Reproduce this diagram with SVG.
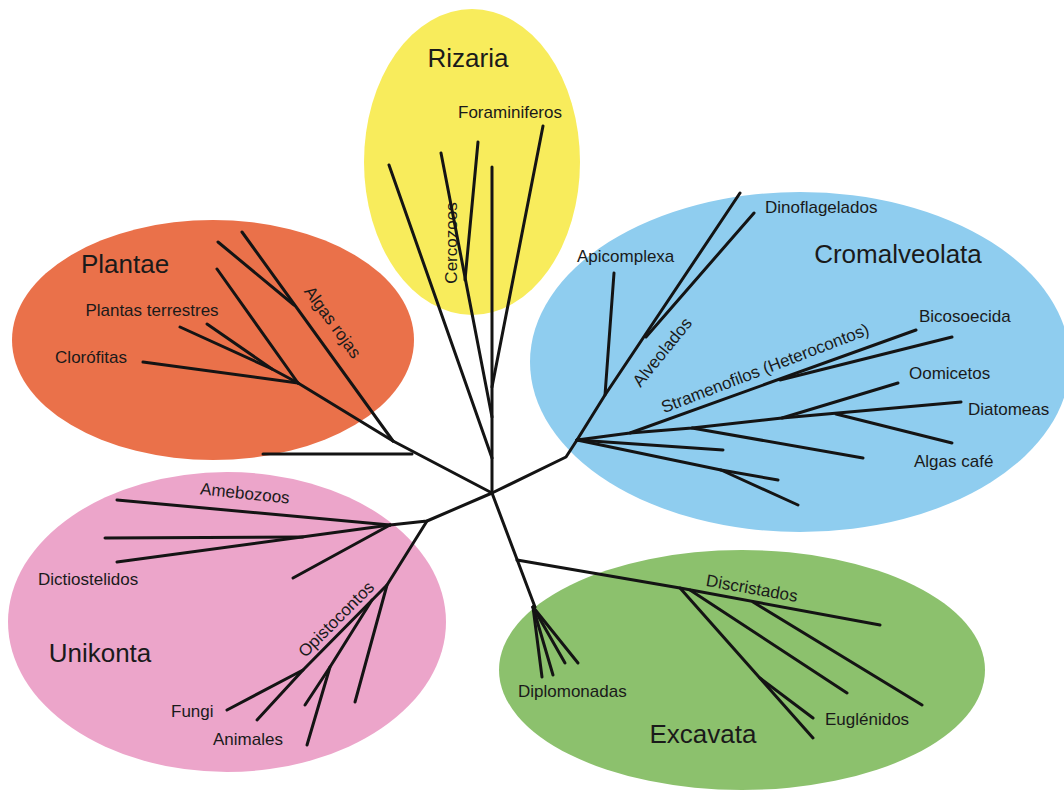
<svg xmlns="http://www.w3.org/2000/svg" width="1064" height="793" viewBox="0 0 1064 793">
<style>
.t{font-family:"Liberation Sans",Arial,sans-serif;font-size:17px;fill:#1a1a1a}
.h{font-family:"Liberation Sans",Arial,sans-serif;font-size:26px;fill:#1a1a1a}
.m{text-anchor:middle}
.br{fill:none;stroke:#141414;stroke-width:3;stroke-linecap:round;stroke-linejoin:round}
</style>
<rect width="1064" height="793" fill="#ffffff"/>
<g id="rizaria">
<ellipse cx="472" cy="162" rx="108" ry="153" fill="#f8ec5c"/>
<text class="h m" x="468" y="67">Rizaria</text>
<text class="t m" x="510" y="118">Foraminiferos</text>
<text class="t m" transform="translate(457,243) rotate(-90)">Cercozoos</text>
</g>
<g id="plantae">
<ellipse cx="213" cy="340" rx="201" ry="120" fill="#ea714a"/>
<text class="h m" x="125" y="273">Plantae</text>
<text class="t m" x="152" y="316">Plantas terrestres</text>
<text class="t m" x="91" y="363">Clorófitas</text>
<text class="t m" transform="translate(333,322) rotate(54)" y="6">Algas rojas</text>
</g>
<g id="cromalveolata">
<ellipse cx="800" cy="362" rx="270" ry="170" fill="#8fcdef"/>
<text class="h m" x="898" y="263">Cromalveolata</text>
<text class="t" x="577" y="262">Apicomplexa</text>
<text class="t" x="765" y="213">Dinoflagelados</text>
<text class="t" x="919" y="322">Bicosoecida</text>
<text class="t" x="909" y="379">Oomicetos</text>
<text class="t" x="968" y="415">Diatomeas</text>
<text class="t" x="914" y="467">Algas café</text>
<text class="t m" transform="translate(662,352) rotate(-51)" y="6">Alveolados</text>
<text class="t m" transform="translate(765,368) rotate(-21)" y="6">Stramenofilos (Heterocontos)</text>
</g>
<g id="unikonta">
<ellipse cx="227" cy="622" rx="219" ry="150" fill="#eca5ca"/>
<text class="h m" x="100" y="662">Unikonta</text>
<text class="t m" transform="translate(245,493) rotate(6)" y="6">Amebozoos</text>
<text class="t" x="38" y="585">Dictiostelidos</text>
<text class="t m" transform="translate(336,619) rotate(-45)" y="6">Opistocontos</text>
<text class="t" x="171" y="717">Fungi</text>
<text class="t" x="213" y="745">Animales</text>
</g>
<g id="excavata">
<ellipse cx="742" cy="670" rx="243" ry="120" fill="#8cc16d"/>
<text class="h m" x="703" y="743">Excavata</text>
<text class="t m" transform="translate(752,588) rotate(10)" y="6">Discristados</text>
<text class="t" x="518" y="697">Diplomonadas</text>
<text class="t" x="825" y="725">Euglénidos</text>
</g>
<g id="connectors" class="br">
<path d="M492,493 L492,167"/>
<path d="M492,493 L393,441"/>
<path d="M263,454 L412,454"/>
<path d="M492,493 L566,457 L577,440"/>
<path d="M492,493 L427,521 L390,525"/>
<path d="M492,493 L535,607"/>
<path d="M389,165 L492,458"/>
<path d="M441,153 L492,417"/>
<path d="M478,142 L465,280"/>
<path d="M543,126 L492,387"/>
<path d="M393,441 L242,232"/>
<path d="M218,242 L294,305"/>
<path d="M393,441 L298,383"/>
<path d="M298,383 L217,269"/>
<path d="M298,383 L143,362"/>
<path d="M298,383 L272,369 L180,327"/>
<path d="M272,369 L207,324"/>
<path d="M577,440 L605,395 L740,193"/>
<path d="M605,395 L614,273"/>
<path d="M646,337 L754,213"/>
<path d="M577,440 L630,433 L916,330"/>
<path d="M780,380 L952,337"/>
<path d="M630,433 L692,428 L782,418 L961,402"/>
<path d="M782,418 L898,383"/>
<path d="M836,414 L952,443"/>
<path d="M692,428 L863,458"/>
<path d="M577,440 L723,450"/>
<path d="M577,440 L721,470 L798,505"/>
<path d="M721,470 L778,480"/>
<path d="M390,525 L117,500"/>
<path d="M390,525 L117,562"/>
<path d="M105,538 L303,537"/>
<path d="M390,525 L293,578"/>
<path d="M427,521 L387,585 L303,670 L227,710"/>
<path d="M303,670 L257,720"/>
<path d="M387,585 L355,702"/>
<path d="M372,600 L330,667 L305,705"/>
<path d="M330,667 L307,745"/>
<path d="M517,560 L680,588 L880,625"/>
<path d="M680,588 L813,738"/>
<path d="M760,678 L813,718"/>
<path d="M690,590 L847,693"/>
<path d="M753,602 L922,705"/>
<path d="M533,607 L542,677"/>
<path d="M533,607 L553,675"/>
<path d="M533,607 L565,663"/>
<path d="M533,607 L578,663"/>
</g>
</svg>
